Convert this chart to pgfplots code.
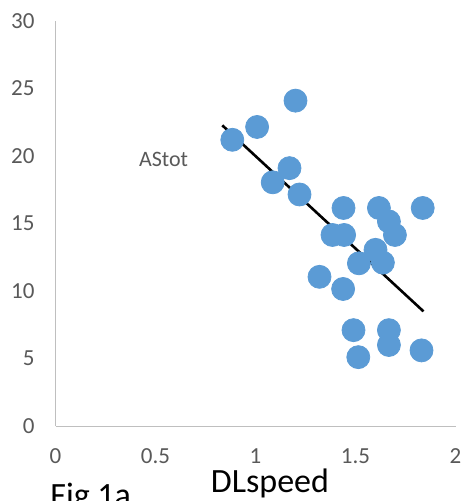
\documentclass[border=0pt]{standalone}
\usepackage{pgfplots}
\pgfplotsset{compat=1.18}
\usepackage{fontspec}
\setmainfont{Carlito}
\definecolor{ptblue}{HTML}{5B9BD5}
\definecolor{txtgray}{HTML}{595959}
\definecolor{axgray}{HTML}{BFBFBF}
\begin{document}
\begin{tikzpicture}
\useasboundingbox (-27.75pt,-37.5pt) rectangle (205.25pt,213pt);
\begin{axis}[
  at={(0,0)}, anchor=south west,
  scale only axis,
  width=200pt, height=202.5pt,
  xmin=0, xmax=2, ymin=0, ymax=30,
  xtick={0,0.5,1,1.5,2},
  ytick={0,5,10,15,20,25,30},
  axis x line=bottom, axis y line=left,
  axis line style={-, draw=axgray, line width=0.5pt},
  major tick length=0pt,
  tick style={draw=none},
  /pgf/number format/assume math mode=true,
  ticklabel style={font=\fontsize{11.5}{13}\selectfont, text=txtgray},
  xticklabel style={yshift=-8pt},
  yticklabel style={xshift=-7pt},
  clip=false,
]
\addplot[only marks, mark=*, mark size=5.75pt, mark options={draw=ptblue, fill=ptblue}] coordinates {
(1.20,24.1) (1.008,22.15) (0.884,21.2) (1.17,19.1) (1.086,18.05)
(1.22,17.15) (1.44,16.15) (1.617,16.15) (1.836,16.15) (1.667,15.15)
(1.697,14.15) (1.385,14.15) (1.443,14.15) (1.60,13.05) (1.637,12.1)
(1.517,12.05) (1.32,11.05) (1.438,10.15) (1.49,7.1) (1.667,7.1)
(1.667,6.0) (1.83,5.6) (1.514,5.1)
};
\addplot[black, line width=1.3pt] coordinates {(0.834,22.27) (1.84,8.49)};
\node[text=txtgray, font=\fontsize{11}{13}\selectfont] at (axis cs:0.54,19.75) {AStot};
\end{axis}
\node[anchor=base, font=\fontsize{17}{20}\selectfont] at (107.25pt,-33pt) {DLspeed};
\node[anchor=base west, inner sep=0pt, font=\fontsize{17}{20}\selectfont] at (-2.75pt,-40.4pt) {Fig 1a};
\end{tikzpicture}
\end{document}
